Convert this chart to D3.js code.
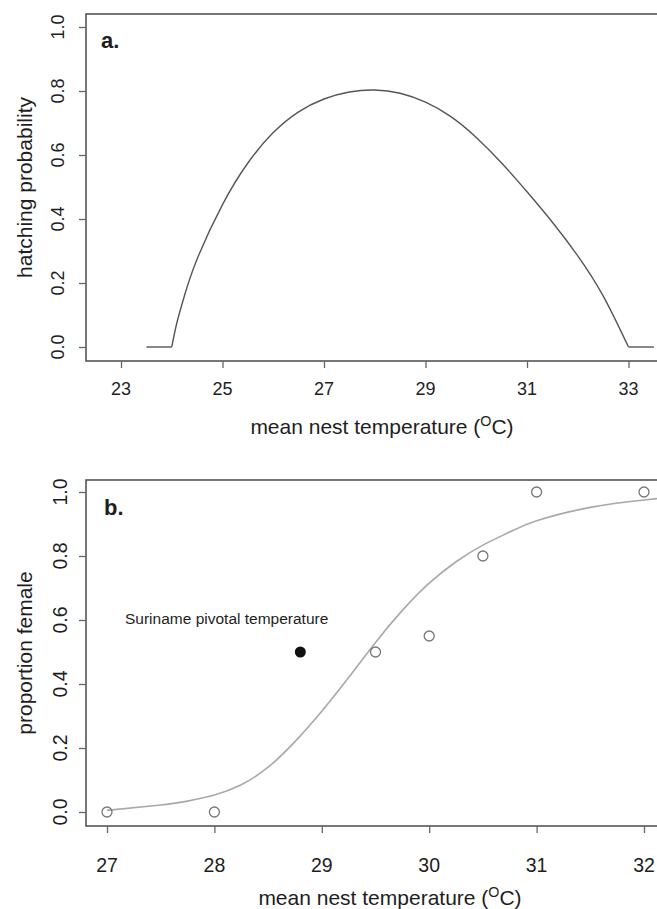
<!DOCTYPE html>
<html>
<head>
<meta charset="utf-8">
<script src="https://d3js.org/d3.v7.min.js"></script>
<style>
body { margin: 0; background: #fff; }
svg text { font-family: "Liberation Sans", Arial, Helvetica, sans-serif; fill: #1e1e1e; }
.frame { fill: none; stroke: #555; stroke-width: 1.6; }
.tick line { stroke: #666; stroke-width: 1.3; }
</style>
</head>
<body>
<div id="chart"></div>
<script>
// panel a: hatching probability vs mean nest temperature
var hatchTemp = [23.5, 24.0, 24.1, 24.25, 24.5, 25, 25.5, 26, 26.5, 27, 27.5, 28, 28.5, 29, 29.5, 30, 30.5, 31, 31.5, 32, 32.5, 33, 33.5];
var hatchProb = [0, 0, 0.075, 0.16, 0.275, 0.445, 0.575, 0.67, 0.735, 0.775, 0.797, 0.803, 0.793, 0.765, 0.72, 0.655, 0.575, 0.485, 0.39, 0.285, 0.16, 0, 0];
var xTicksA = [23, 25, 27, 29, 31, 33];

// panel b: proportion female vs mean nest temperature
var fitTemp = [27, 27.5, 27.75, 28, 28.25, 28.5, 28.75, 29, 29.25, 29.5, 29.75, 30, 30.25, 30.5, 30.75, 31, 31.5, 32, 32.2];
var fitProp = [0.005, 0.022, 0.034, 0.053, 0.085, 0.14, 0.22, 0.315, 0.42, 0.53, 0.63, 0.715, 0.782, 0.834, 0.875, 0.91, 0.952, 0.975, 0.982];
var obsTemp = [27, 28, 29.5, 30, 30.5, 31, 32];
var obsProp = [0, 0, 0.5, 0.55, 0.8, 1.0, 1.0];
var pivotTemp = [28.8];
var pivotProp = [0.5];
var pivotLabel = "Suriname pivotal temperature";
var xTicksB = [27, 28, 29, 30, 31, 32];

var yTicks = [0, 0.2, 0.4, 0.6, 0.8, 1.0];

var W = 657, H = 909;
var svg = d3.select("#chart").append("svg").attr("width", W).attr("height", H);

function superTitle(g, x, y, size) {
  var t = g.append("text").attr("x", x).attr("y", y)
    .attr("text-anchor", "middle").style("font-size", size + "px");
  t.append("tspan").text("mean nest temperature (");
  t.append("tspan").attr("dy", -size * 0.38).style("font-size", (size * 0.68) + "px").text("O");
  t.append("tspan").attr("dy", size * 0.38).text("C)");
}

function panel(opt) {
  var g = svg.append("g");
  var x = d3.scaleLinear().domain(opt.xdom).range(opt.xrange);
  var y = d3.scaleLinear().domain([0, 1]).range([opt.y0, opt.y1]);

  g.append("rect").attr("class", "frame")
    .attr("x", opt.left).attr("y", opt.top)
    .attr("width", opt.right - opt.left).attr("height", opt.bottom - opt.top);

  var xa = g.append("g").attr("transform", "translate(0," + opt.bottom + ")")
    .call(d3.axisBottom(x).tickValues(opt.xticks).tickSize(7).tickPadding(0).tickFormat(d3.format("d")));
  xa.select(".domain").remove();
  xa.selectAll("text").remove();
  g.selectAll(".xlab").data(opt.xticks).enter().append("text")
    .attr("x", function(d) { return x(d); }).attr("y", opt.xlabY)
    .attr("text-anchor", "middle").style("font-size", opt.tickSize + "px")
    .text(function(d) { return d; });

  var ya = g.append("g").attr("transform", "translate(" + opt.left + ",0)")
    .call(d3.axisLeft(y).tickValues(yTicks).tickSize(7).tickFormat(d3.format(".1f")));
  ya.select(".domain").remove();
  ya.selectAll("text").remove();
  g.selectAll(".ylab").data(yTicks).enter().append("text")
    .attr("transform", function(d) { return "translate(" + opt.ylabX + "," + y(d) + ") rotate(-90)"; })
    .attr("text-anchor", "middle").style("font-size", opt.tickSize + "px")
    .text(function(d) { return d3.format(".1f")(d); });

  g.append("text")
    .attr("transform", "translate(32," + ((opt.top + opt.bottom) / 2) + ") rotate(-90)")
    .attr("text-anchor", "middle").style("font-size", "21px")
    .text(opt.ytitle);

  superTitle(g, opt.titleX, opt.titleY, 21);

  g.append("text").attr("x", opt.tagX).attr("y", opt.tagY)
    .style("font-size", "22px").style("font-weight", "bold").text(opt.tag);

  return { g: g, x: x, y: y };
}

// ---- panel a ----
var pa = panel({
  xdom: [23, 33], xrange: [121, 628.5], y0: 347, y1: 27,
  left: 86, right: 672, top: 14, bottom: 361,
  xticks: xTicksA, xlabY: 395, ylabX: 64, tickSize: 18,
  ytitle: "hatching probability", titleX: 382, titleY: 434,
  tag: "a.", tagX: 101, tagY: 48
});

var ptsA = hatchTemp.map(function(t, i) { return [t, hatchProb[i]]; });
var lineA = d3.line().x(function(p) { return pa.x(p[0]); }).y(function(p) { return pa.y(p[1]); });
// smooth arc between the two breakpoints, straight flat ends outside
pa.g.append("path").datum(ptsA.filter(function(p) { return p[0] >= 24 && p[0] <= 33; }))
  .attr("d", lineA.curve(d3.curveNatural))
  .attr("fill", "none").attr("stroke", "#555").attr("stroke-width", 1.4);
lineA.curve(d3.curveLinear);
[ptsA.filter(function(p) { return p[0] <= 24; }), ptsA.filter(function(p) { return p[0] >= 33; })].forEach(function(seg) {
  pa.g.append("path").datum(seg).attr("d", lineA)
    .attr("fill", "none").attr("stroke", "#555").attr("stroke-width", 1.4);
});

// ---- panel b ----
var pb = panel({
  xdom: [27, 32], xrange: [107, 644], y0: 812, y1: 492,
  left: 86, right: 666, top: 480, bottom: 826,
  xticks: xTicksB, xlabY: 872, ylabX: 67, tickSize: 19.5,
  ytitle: "proportion female", titleX: 390, titleY: 905,
  tag: "b.", tagX: 104, tagY: 515
});

var ptsB = fitTemp.map(function(t, i) { return [t, fitProp[i]]; });
pb.g.append("path").datum(ptsB)
  .attr("d", d3.line().x(function(p) { return pb.x(p[0]); }).y(function(p) { return pb.y(p[1]); }).curve(d3.curveNatural))
  .attr("fill", "none").attr("stroke", "#a8a8a8").attr("stroke-width", 1.6);

pb.g.selectAll(".obs").data(obsTemp).enter().append("circle")
  .attr("cx", function(d) { return pb.x(d); })
  .attr("cy", function(d, i) { return pb.y(obsProp[i]); })
  .attr("r", 5).attr("fill", "none").attr("stroke", "#777").attr("stroke-width", 1.3);

pb.g.selectAll(".pivot").data(pivotTemp).enter().append("circle")
  .attr("cx", function(d) { return pb.x(d); })
  .attr("cy", function(d, i) { return pb.y(pivotProp[i]); })
  .attr("r", 5.5).attr("fill", "#111");

pb.g.append("text").attr("x", 125).attr("y", 624)
  .style("font-size", "15.5px").text(pivotLabel);
</script>
</body>
</html>
